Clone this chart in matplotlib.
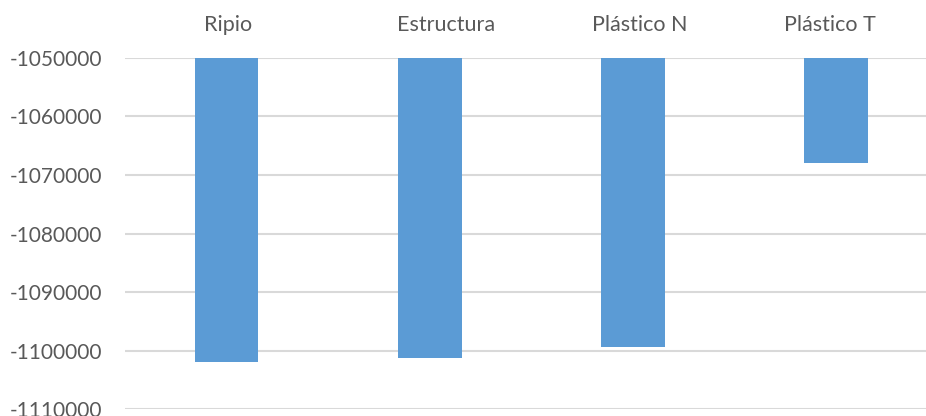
import matplotlib
matplotlib.use("Agg")
import matplotlib.pyplot as plt
from matplotlib.ticker import FuncFormatter
from matplotlib.transforms import ScaledTranslation

categories = ["Ripio", "Estructura", "Plástico N", "Plástico T"]
values = [-1102000, -1101300, -1099300, -1067900]
base = -1050000
y_ticks = [-1050000, -1060000, -1070000, -1080000, -1090000, -1100000, -1110000]

# horizontal nudges of the category labels (pixels), as seen in the reference
label_nudge_px = [1, 16, 7, -6]

plt.rcParams['font.family'] = ['Lato', 'DejaVu Sans']

fig = plt.figure(figsize=(9.26, 4.16), dpi=100)
left = 125 / 926
bottom = 1 - 409.3 / 416
top = 1 - 57.7 / 416
ax = fig.add_axes([left, bottom, 1 - left, top - bottom])

x = list(range(len(categories)))
heights = [v - base for v in values]
ax.bar(x, heights, bottom=base, width=0.313, color="#5b9bd5", zorder=3)

ax.set_ylim(-1110000, -1050000)
ax.set_xlim(-0.5, -0.5 + (926 - 125) / 203.2)
ax.set_yticks(y_ticks)
ax.yaxis.set_major_formatter(FuncFormatter(lambda v, p: f"{int(v)}"))
ax.grid(axis="y", color="#d9d9d9", linewidth=1.5, zorder=0)
ax.set_xticks(x)
ax.set_xticklabels(categories)
ax.xaxis.tick_top()
ax.tick_params(axis="both", length=0, colors="#595959")
ax.tick_params(axis="y", pad=16.5, labelsize=15)
ax.tick_params(axis="x", pad=16, labelsize=15.5)
for s in ax.spines.values():
    s.set_visible(False)

for lab, dx in zip(ax.get_xticklabels(), label_nudge_px):
    lab.set_transform(lab.get_transform() + ScaledTranslation(dx / 100, 0, fig.dpi_scale_trans))

fig.savefig("out.png", dpi=100)
